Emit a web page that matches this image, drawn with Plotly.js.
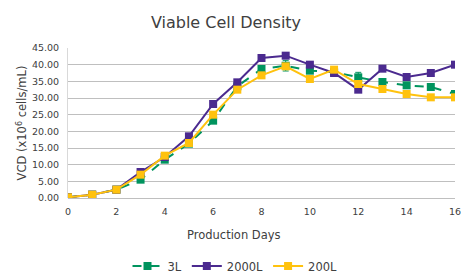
<!DOCTYPE html>
<html><head><meta charset="utf-8">
<script src="https://cdn.plot.ly/plotly-3.0.1.min.js"></script>
<style>html,body{margin:0;padding:0;background:#fff}#c{width:461px;height:272px}</style>
</head><body><div id="c"></div>
<script>
const days = [0,1,2,3,4,5,6,7,8,9,10,11,12,13,14,15,16];
const vcd3L = [0.2,1.0,2.5,5.5,11.5,16.3,23.2,33.5,38.7,39.7,38.2,37.8,36.2,34.8,33.8,33.3,31.2];
const err3L = [0.1,0.2,0.3,0.4,0.5,0.6,0.8,0.8,1.0,1.6,0.8,0.8,1.5,0.6,0.6,0.6,0.6];
const vcd2000L = [0.2,1.0,2.5,7.8,12.3,18.5,28.2,34.7,42.0,42.7,40.0,37.5,32.5,38.8,36.3,37.5,40.0];
const vcd200L = [0.2,1.0,2.5,7.0,12.7,16.5,25.0,32.5,36.8,39.5,35.7,38.5,34.2,32.7,31.2,30.2,30.2];
const names = ['3L','2000L','200L'];
const xTicks = [0,2,4,6,8,10,12,14,16];
const yTicks = [0,5,10,15,20,25,30,35,40,45];

const font = 'DejaVu Sans, Verdana, sans-serif';
const txt = '#404040';
const traces = [
  {x: days, y: vcd3L, name: names[0], mode: 'lines+markers',
   line: {color: '#00945E', width: 2, dash: 'dash'},
   marker: {symbol: 'square', size: 8, color: '#00945E'},
   error_y: {type: 'data', array: err3L, visible: true, color: '#00945E', thickness: 1, width: 3}},
  {x: days, y: vcd2000L, name: names[1], mode: 'lines+markers',
   line: {color: '#4B2A8F', width: 2},
   marker: {symbol: 'square', size: 8, color: '#4B2A8F'}},
  {x: days, y: vcd200L, name: names[2], mode: 'lines+markers',
   line: {color: '#FFC20E', width: 2},
   marker: {symbol: 'square', size: 8, color: '#FFC20E'}}
];
const layout = {
  width: 461, height: 272,
  margin: {l: 68, r: 6, t: 48, b: 74},
  paper_bgcolor: '#fff', plot_bgcolor: '#fff',
  font: {family: font, color: txt, size: 9.5},
  title: {text: 'Viable Cell Density', font: {family: font, size: 16, color: txt},
    xref: 'container', x: 226/461, xanchor: 'center', yref: 'container', y: 1 - 22/272, yanchor: 'middle'},
  xaxis: {range: [0, 16], tickvals: xTicks, showgrid: false, zeroline: false,
    showline: false, ticks: 'outside', ticklen: 5, tickcolor: 'rgba(0,0,0,0)',
    tickfont: {size: 9.5}, ticklabeloverflow: 'allow', automargin: false},
  yaxis: {range: [0, 45], tickvals: yTicks, ticktext: yTicks.map(v => v.toFixed(2)),
    showgrid: true, gridcolor: '#BFBFBF', gridwidth: 1, zeroline: true, zerolinecolor: '#BFBFBF',
    showline: true, linecolor: '#D9D9D9', ticks: 'outside', ticklen: 6, tickcolor: 'rgba(0,0,0,0)',
    tickfont: {size: 9.5}, automargin: false,
    title: {text: 'VCD (x10<sup>6</sup> cells/mL)', font: {size: 11.5}, standoff: 2}},
  annotations: [{text: 'Production Days', xref: 'paper', yref: 'paper',
    x: (234 - 68) / (455 - 68), y: -(235 - 198) / 150, xanchor: 'center', yanchor: 'middle',
    showarrow: false, font: {size: 11.5, color: txt}}],
  legend: {orientation: 'h', xref: 'container', x: 235/461, xanchor: 'center',
    yref: 'container', y: 1 - 266/272, yanchor: 'middle', font: {size: 11.5}},
  showlegend: true
};
Plotly.newPlot('c', traces, layout, {staticPlot: true, displayModeBar: false});
</script></body></html>
